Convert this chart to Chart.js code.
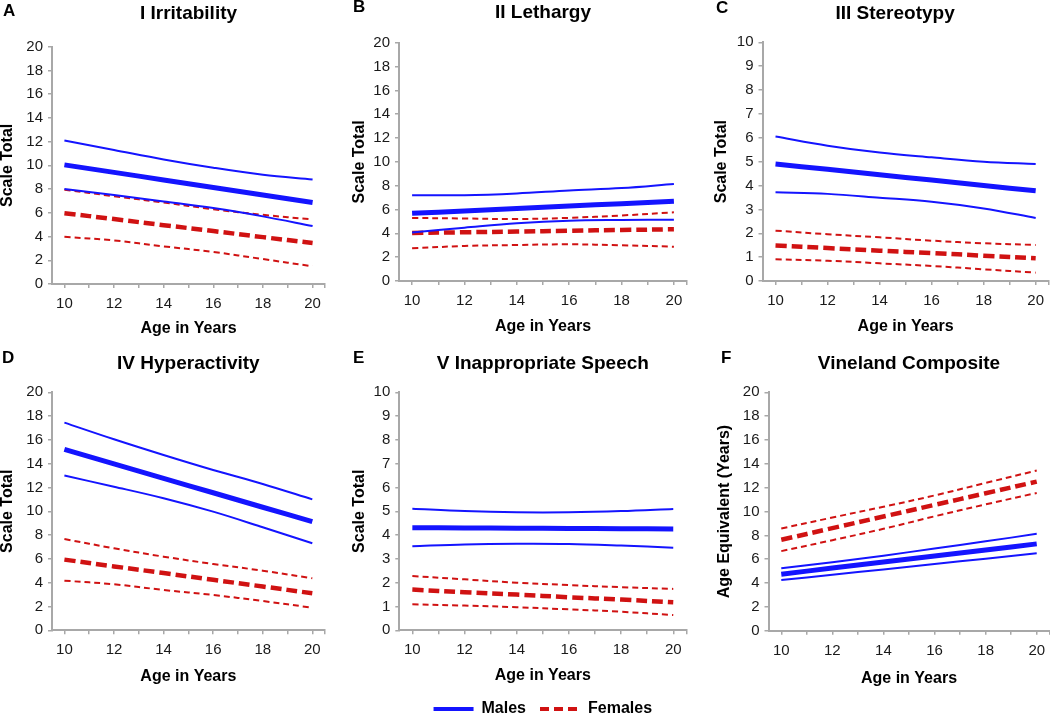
<!DOCTYPE html>
<html>
<head>
<meta charset="utf-8">
<script src="https://cdn.jsdelivr.net/npm/chart.js@4.4.1/dist/chart.umd.min.js"></script>
<style>
  html, body { margin: 0; padding: 0; background: #fff; }
  #fig { position: relative; width: 1050px; height: 715px; overflow: hidden; }
  #fig canvas { position: absolute; }
  .tag { position: absolute; font: bold 17px "Liberation Sans", Arial, sans-serif; line-height: 1; color: #000; }
</style>
</head>
<body>
<div id="fig"></div>
<script>
  var ages = [10, 12, 14, 16, 18, 20];
  // x tick marks (every year, plus the axis end) and which ones get a label
  var xTickMarks = [10, 11, 12, 13, 14, 15, 16, 17, 18, 19, 20, 20.5];
  var xTickLabels = [10, 12, 14, 16, 18, 20];

  // A  I Irritability
  var irrMale = [10.04, 9.41, 8.77, 8.14, 7.5, 6.87];
  var irrMaleHi = [12.1, 11.3, 10.5, 9.8, 9.2, 8.8];
  var irrMaleLo = [8.0, 7.5, 6.96, 6.4, 5.7, 4.88];
  var irrFem = [5.97, 5.47, 4.96, 4.46, 3.95, 3.45];
  var irrFemHi = [7.94, 7.4, 6.87, 6.3, 5.83, 5.44];
  var irrFemLo = [3.98, 3.67, 3.17, 2.7, 2.1, 1.49];

  // B  II Lethargy
  var letMale = [5.68, 5.88, 6.08, 6.29, 6.49, 6.69];
  var letMaleHi = [7.2, 7.2, 7.35, 7.6, 7.8, 8.15];
  var letMaleLo = [4.08, 4.47, 4.84, 5.06, 5.12, 5.15];
  var letFem = [4.03, 4.09, 4.15, 4.22, 4.28, 4.34];
  var letFemHi = [5.29, 5.25, 5.2, 5.3, 5.5, 5.76];
  var letFemLo = [2.74, 2.94, 3.02, 3.08, 3.0, 2.88];

  // C  III Stereotypy
  var sterMale = [4.9, 4.68, 4.45, 4.23, 4.0, 3.78];
  var sterMaleHi = [6.05, 5.67, 5.38, 5.18, 5.0, 4.9];
  var sterMaleLo = [3.72, 3.65, 3.49, 3.32, 3.04, 2.64];
  var sterFem = [1.49, 1.38, 1.27, 1.17, 1.06, 0.95];
  var sterFemHi = [2.11, 1.96, 1.83, 1.69, 1.58, 1.51];
  var sterFemLo = [0.91, 0.85, 0.74, 0.63, 0.49, 0.35];

  // D  IV Hyperactivity
  var hypMale = [15.2, 13.99, 12.77, 11.56, 10.34, 9.13];
  var hypMaleHi = [17.45, 16.05, 14.73, 13.47, 12.3, 11.0];
  var hypMaleLo = [13.0, 12.07, 11.1, 9.97, 8.66, 7.31];
  var hypFem = [5.94, 5.37, 4.81, 4.24, 3.68, 3.11];
  var hypFemHi = [7.67, 6.89, 6.19, 5.57, 5.01, 4.37];
  var hypFemLo = [4.17, 3.87, 3.39, 2.97, 2.46, 1.9];

  // E  V Inappropriate Speech
  var spMale = [4.31, 4.3, 4.29, 4.28, 4.27, 4.26];
  var spMaleHi = [5.11, 5.01, 4.96, 4.96, 5.01, 5.1];
  var spMaleLo = [3.53, 3.61, 3.64, 3.63, 3.56, 3.47];
  var spFem = [1.71, 1.6, 1.5, 1.39, 1.29, 1.18];
  var spFemHi = [2.28, 2.14, 2.0, 1.9, 1.81, 1.74];
  var spFemLo = [1.09, 1.04, 0.97, 0.88, 0.78, 0.64];

  // F  Vineland Composite
  var vinMale = [4.75, 5.26, 5.77, 6.27, 6.78, 7.29];
  var vinMaleHi = [5.25, 5.75, 6.3, 6.9, 7.5, 8.13];
  var vinMaleLo = [4.25, 4.7, 5.15, 5.6, 6.05, 6.51];
  var vinFem = [7.63, 8.61, 9.58, 10.56, 11.53, 12.51];
  var vinFemHi = [8.58, 9.5, 10.4, 11.35, 12.4, 13.44];
  var vinFemLo = [6.68, 7.6, 8.55, 9.6, 10.6, 11.56];

  var BLUE = "#1414ff";
  var RED = "#d01212";
  var AXIS = "#a8a8a8";
  var FONT = '"Liberation Sans", Arial, sans-serif';

  Chart.defaults.font.family = FONT;
  Chart.defaults.color = "#1a1a1a";

  // canvas box + where the plot area has to land (page pixels)
  var panels = [
    { tag: "A", title: "I Irritability", yTitle: "Scale Total", yMax: 20, yStep: 2,
      series: [irrMale, irrMaleHi, irrMaleLo, irrFem, irrFemHi, irrFemLo],
      left: 0, top: 0, width: 335, height: 340, axisBottom: 340,
      plotLeft: 52, plotRight: 325, plotTop: 46.7, plotBottom: 284, titleY: 14, tagX: 3, tagY: 2 },
    { tag: "B", title: "II Lethargy", yTitle: "Scale Total", yMax: 20, yStep: 2,
      series: [letMale, letMaleHi, letMaleLo, letFem, letFemHi, letFemLo],
      left: 352, top: 0, width: 345, height: 338, axisBottom: 338,
      plotLeft: 399, plotRight: 687, plotTop: 42.7, plotBottom: 281, titleY: 12.4, tagX: 353, tagY: -2 },
    { tag: "C", title: "III Stereotypy\u00a0\u00a0\u00a0\u00a0", yTitle: "Scale Total", yMax: 10, yStep: 1,
      series: [sterMale, sterMaleHi, sterMaleLo, sterFem, sterFemHi, sterFemLo],
      left: 714, top: 0, width: 345, height: 338, axisBottom: 338,
      plotLeft: 762.5, plotRight: 1048.7, plotTop: 42.3, plotBottom: 281, titleY: 13.3, tagX: 716, tagY: -1 },
    { tag: "D", title: "IV Hyperactivity", yTitle: "Scale Total", yMax: 20, yStep: 2,
      series: [hypMale, hypMaleHi, hypMaleLo, hypFem, hypFemHi, hypFemLo],
      left: 0, top: 340, width: 335, height: 348, axisBottom: 688,
      plotLeft: 52, plotRight: 324.7, plotTop: 392.3, plotBottom: 630.3, titleY: 363.3, tagX: 2, tagY: 349 },
    { tag: "E", title: "V Inappropriate Speech", yTitle: "Scale Total", yMax: 10, yStep: 1,
      series: [spMale, spMaleHi, spMaleLo, spFem, spFemHi, spFemLo], legend: true,
      left: 352, top: 340, width: 345, height: 387, axisBottom: 687,
      plotLeft: 399.3, plotRight: 686.3, plotTop: 392.3, plotBottom: 630.3, titleY: 363.3, tagX: 353, tagY: 349 },
    { tag: "F", title: "Vineland Composite", yTitle: "Age Equivalent (Years)", yMax: 20, yStep: 2,
      series: [vinMale, vinMaleHi, vinMaleLo, vinFem, vinFemHi, vinFemLo],
      left: 717, top: 340, width: 343, height: 350, axisBottom: 690,
      plotLeft: 768.5, plotRight: 1049.5, plotTop: 392.3, plotBottom: 630.8, titleY: 363.3, tagX: 721, tagY: 349 }
  ];

  function line(label, values, color, width, dash) {
    return {
      label: label,
      data: ages.map(function (a, i) { return { x: a, y: values[i] }; }),
      borderColor: color,
      backgroundColor: color,
      borderWidth: width,
      borderDash: dash,
      pointRadius: 0,
      pointHoverRadius: 0,
      tension: 0.35,
      fill: false
    };
  }

  // legend items: line samples that keep the dataset's dash pattern
  function legendLabels(chart) {
    var items = Chart.defaults.plugins.legend.labels.generateLabels(chart);
    items.forEach(function (item) {
      var ds = chart.data.datasets[item.datasetIndex];
      item.lineDash = ds.borderDash.length ? [9, 5] : [];
      item.lineWidth = 4;
      item.strokeStyle = ds.borderColor;
    });
    return items;
  }

  function makePanel(p) {
    var fig = document.getElementById("fig");
    var canvas = document.createElement("canvas");
    canvas.width = p.width;
    canvas.height = p.height;
    canvas.style.left = p.left + "px";
    canvas.style.top = p.top + "px";
    fig.appendChild(canvas);

    var tag = document.createElement("div");
    tag.className = "tag";
    tag.textContent = p.tag;
    tag.style.left = p.tagX + "px";
    tag.style.top = p.tagY + "px";
    fig.appendChild(tag);

    var s = p.series;
    var yWidth = p.plotLeft - p.left;
    var xHeight = p.axisBottom - p.plotBottom;

    new Chart(canvas, {
      type: "line",
      data: {
        datasets: [
          line("Males upper", s[1], BLUE, 2, []),
          line("Males lower", s[2], BLUE, 2, []),
          line("Females upper", s[4], RED, 2, [6, 4]),
          line("Females lower", s[5], RED, 2, [6, 4]),
          line("Males", s[0], BLUE, 5, []),
          line("Females", s[3], RED, 4.5, [11, 5])
        ]
      },
      options: {
        responsive: false,
        animation: false,
        devicePixelRatio: 1,
        events: [],
        layout: { padding: { left: 0, top: 0, bottom: 0, right: p.left + p.width - p.plotRight } },
        plugins: {
          tooltip: { enabled: false },
          title: {
            display: true,
            text: p.title,
            fullSize: false,
            color: "#000",
            font: { size: 19, weight: "bold", lineHeight: 1.2 },
            padding: { top: p.titleY - p.top - 11.4, bottom: p.plotTop - p.titleY - 11.4 }
          },
          legend: {
            display: !!p.legend,
            position: "bottom",
            fullSize: false,
            labels: {
              usePointStyle: true,
              pointStyle: "line",
              pointStyleWidth: 40,
              padding: 14,
              color: "#000",
              font: { size: 16, weight: "bold" },
              generateLabels: legendLabels,
              filter: function (item) { return item.text === "Males" || item.text === "Females"; }
            }
          }
        },
        scales: {
          x: {
            type: "linear",
            min: 9.5,
            max: 20.5,
            afterBuildTicks: function (scale) {
              scale.ticks = xTickMarks.map(function (v) { return { value: v }; });
            },
            afterFit: function (scale) { scale.height = xHeight; },
            ticks: {
              autoSkip: false,
              maxRotation: 0,
              padding: 7,
              color: "#1a1a1a",
              font: { size: 15 },
              callback: function (v) { return xTickLabels.indexOf(v) >= 0 ? String(v) : ""; }
            },
            grid: { drawOnChartArea: false, drawTicks: true, tickLength: 4, color: AXIS, lineWidth: 1.5 },
            border: { display: true, color: AXIS, width: 2 },
            title: {
              display: true,
              text: "Age in Years",
              color: "#000",
              font: { size: 16, weight: "bold", lineHeight: 1.2 },
              padding: { top: 0, bottom: 2 }
            }
          },
          y: {
            min: 0,
            max: p.yMax,
            afterFit: function (scale) { scale.width = yWidth; },
            ticks: { stepSize: p.yStep, padding: 5, color: "#1a1a1a", font: { size: 15 } },
            grid: { drawOnChartArea: false, drawTicks: true, tickLength: 4, color: AXIS, lineWidth: 1.5 },
            border: { display: true, color: AXIS, width: 2 },
            title: {
              display: true,
              text: p.yTitle,
              color: "#000",
              font: { size: 16, weight: "bold", lineHeight: 0.9 },
              padding: 0
            }
          }
        }
      }
    });
  }

  panels.forEach(makePanel);
</script>
</body>
</html>
